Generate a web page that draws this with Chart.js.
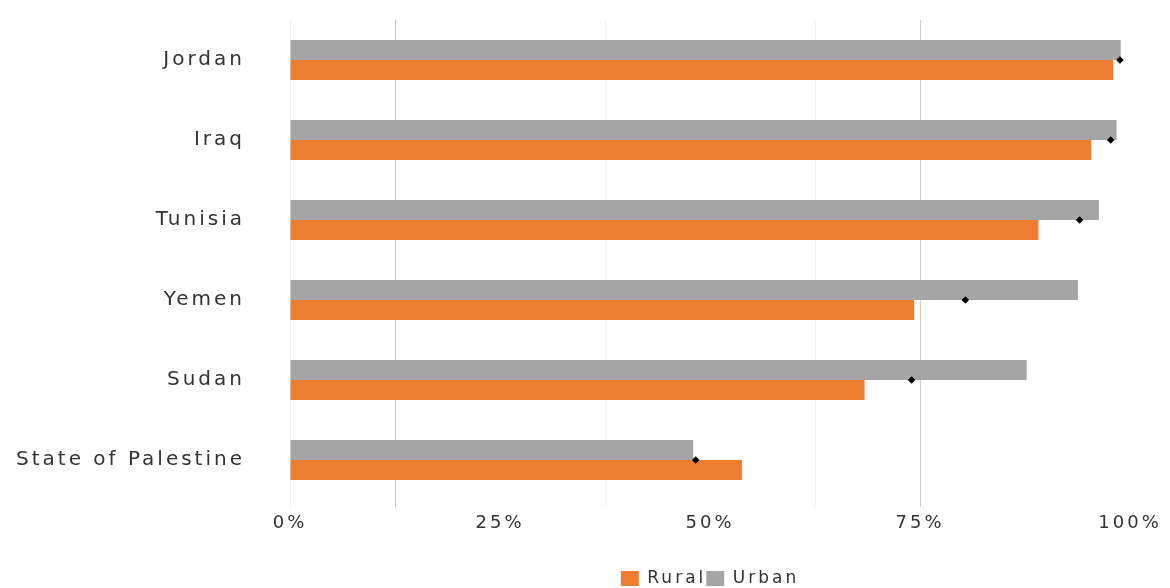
<!DOCTYPE html>
<html>
<head>
<meta charset="utf-8">
<script src="https://cdn.jsdelivr.net/npm/chart.js@4/dist/chart.umd.min.js"></script>
<style>
  html, body { margin: 0; padding: 0; background: #ffffff; }
  #wrap { position: relative; width: 1170px; height: 588px; }
</style>
</head>
<body>
<div id="wrap"><canvas id="c"></canvas></div>
<script>
const categories = ["Jordan", "Iraq", "Tunisia", "Yemen", "Sudan", "State of Palestine"];
const urban = [98.9, 98.4, 96.3, 93.8, 87.7, 48.0];
const rural = [98.0, 95.4, 89.1, 74.3, 68.4, 53.8];
const total = [98.8, 97.7, 94.0, 80.4, 74.0, 48.3];
const tickValues = [0, 12.5, 25, 37.5, 50, 62.5, 75, 87.5, 100];

const FONT = "'DejaVu Sans', sans-serif";
const TEXT = '#333333';

const spacing = {
  id: 'spacing',
  beforeUpdate(chart) { chart.ctx.letterSpacing = '3px'; },
  beforeDraw(chart) { chart.ctx.letterSpacing = '3px'; }
};

// centre the legend under the plotting area and nudge it towards the bottom edge
const legendUnderPlot = {
  id: 'legendUnderPlot',
  afterLayout(chart) {
    const lg = chart.legend;
    if (lg) {
      lg.left = chart.chartArea.left;
      lg.right = chart.chartArea.right;
      lg.top += 9;
      lg.bottom += 9;
    }
  }
};

new Chart(document.getElementById('c'), {
  type: 'bar',
  data: {
    labels: categories,
    datasets: [
      {
        label: 'Urban',
        data: urban,
        backgroundColor: '#A5A5A5',
        categoryPercentage: 0.5,
        barPercentage: 1.0,
        order: 1
      },
      {
        label: 'Rural',
        data: rural,
        backgroundColor: '#ED7D31',
        categoryPercentage: 0.5,
        barPercentage: 1.0,
        order: 1
      },
      {
        type: 'line',
        label: 'Total',
        indexAxis: 'y',
        data: total,
        showLine: false,
        pointStyle: 'rectRot',
        pointRadius: 3.8,
        pointBackgroundColor: '#000000',
        pointBorderColor: '#000000',
        pointBorderWidth: 0,
        order: 0
      }
    ]
  },
  options: {
    indexAxis: 'y',
    responsive: true,
    maintainAspectRatio: false,
    animation: false,
    layout: { padding: { left: 0, right: 40, top: 20, bottom: 0 } },
    plugins: {
      tooltip: { enabled: false },
      legend: {
        position: 'bottom',
        labels: {
          color: TEXT,
          font: { family: FONT, size: 17 },
          boxWidth: 18,
          boxHeight: 15,
          padding: 0,
          filter: (item) => item.text !== 'Total',
          sort: (a, b) => b.datasetIndex - a.datasetIndex
        }
      }
    },
    scales: {
      x: {
        type: 'linear',
        min: 0,
        max: 100,
        afterBuildTicks: (scale) => { scale.ticks = tickValues.map(v => ({ value: v })); },
        afterFit: (scale) => { scale.height = 61; },
        ticks: {
          autoSkip: false,
          maxRotation: 0,
          color: TEXT,
          padding: 6,
          font: { family: FONT, size: 18 },
          callback: (v) => (v % 25 === 0 ? v + '%' : '')
        },
        grid: {
          color: (ctx) => {
            const v = ctx.tick ? ctx.tick.value : null;
            if (v === 12.5 || v === 75) return '#C8C8C8';
            if (v === 0) return '#EFEFEF';
            if (v === 37.5 || v === 62.5) return '#F3F3F3';
            return 'rgba(0,0,0,0)';
          },
          tickLength: 7,
          lineWidth: 1
        },
        border: { display: false }
      },
      y: {
        afterFit: (scale) => { scale.width = 290; },
        ticks: {
          color: TEXT,
          padding: 0,
          font: { family: FONT, size: 20 }
        },
        grid: { display: false, drawTicks: true, tickLength: 45 },
        border: { display: false }
      }
    }
  },
  plugins: [spacing, legendUnderPlot]
});
</script>
</body>
</html>
